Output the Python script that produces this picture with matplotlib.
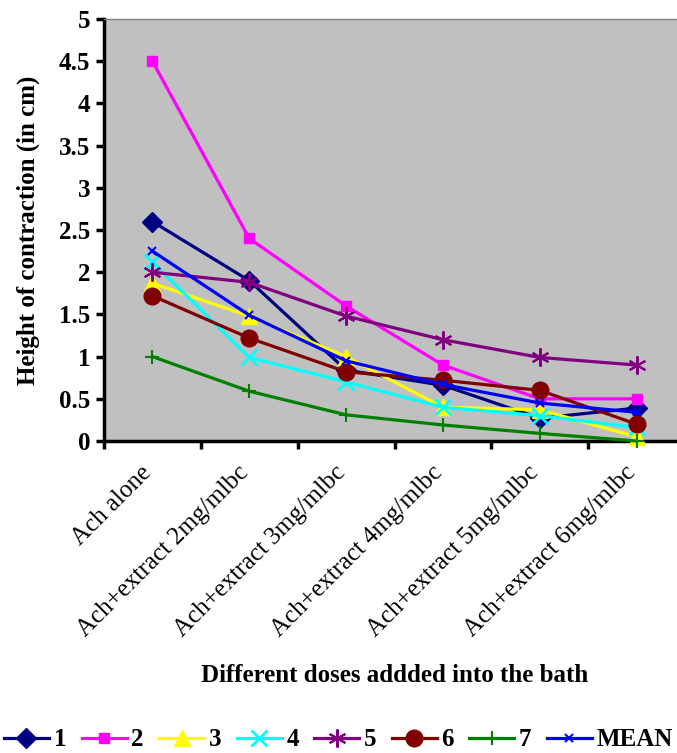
import matplotlib
matplotlib.use("Agg")
import matplotlib.pyplot as plt
from matplotlib.ticker import FixedLocator
from matplotlib.transforms import ScaledTranslation, blended_transform_factory

categories = ["Ach alone", "Ach+extract 2mg/mlbc", "Ach+extract 3mg/mlbc",
              "Ach+extract 4mg/mlbc", "Ach+extract 5mg/mlbc", "Ach+extract 6mg/mlbc"]
s1 = [2.6, 1.9, 0.84, 0.66, 0.27, 0.39]
s2 = [4.5, 2.4, 1.6, 0.9, 0.5, 0.5]
s3 = [1.87, 1.48, 1.0, 0.4, 0.37, 0.05]
s4 = [2.12, 0.99, 0.7, 0.4, 0.3, 0.16]
s5 = [2.0, 1.88, 1.48, 1.2, 0.99, 0.9]
s6 = [1.72, 1.22, 0.82, 0.72, 0.6, 0.2]
s7 = [1.0, 0.59, 0.31, 0.19, 0.09, 0.0]
mean = [2.25, 1.49, 0.95, 0.67, 0.45, 0.34]
labels = ["1", "2", "3", "4", "5", "6", "7", "MEAN"]
yticks = [0, 0.5, 1, 1.5, 2, 2.5, 3, 3.5, 4, 4.5, 5]

plt.rcParams['font.family'] = ['Liberation Serif', 'DejaVu Serif']

fig = plt.figure(figsize=(6.77, 7.53), dpi=100)
ax = fig.add_axes([104/677, (753-441)/753, (685-104)/677, 422/753])
ax.set_facecolor("#C0C0C0")

x = list(range(len(categories)))
styles = [
    dict(color="#000080", marker="D", ms=10, mfc="#000080", mec="#000080"),
    dict(color="#FF00FF", marker="s", ms=7.5, mfc="#FF00FF", mec="#FF00FF"),
    dict(color="#FFFF00", marker="^", ms=11, mfc="#FFFF00", mec="#FFFF00"),
    dict(color="#00FFFF", marker="x", ms=11, mew=2, mec="#00FFFF"),
    dict(color="#800080", marker=(6, 2, 0), ms=13, mew=1.5, mec="#800080"),
    dict(color="#800000", marker="o", ms=12, mfc="#800000", mec="#800000"),
    dict(color="#008000", marker="+", ms=10, mew=1.5, mec="#008000"),
    dict(color="#0000FF", marker="x", ms=6, mew=1.5, mec="#0000FF"),
]
series = [s1, s2, s3, s4, s5, s6, s7, mean]
for i, (ys, st, lb) in enumerate(zip(series, styles, labels)):
    ax.plot(x, ys, lw=2.3, label=lb, clip_on=False, zorder=3 + i, **st)

ax.set_xlim(-0.5, 5.5)
ax.set_ylim(0, 5)
ax.set_yticks(yticks)
ax.set_yticklabels([f"{v:g}" for v in yticks], fontsize=18, fontweight="bold")
ax.set_xticks(x)
ax.set_xticklabels([])
ax.xaxis.set_minor_locator(FixedLocator([i - 0.5 for i in range(len(categories) + 1)]))
ax.tick_params(axis="x", which="major", length=0)
ax.tick_params(axis="x", which="minor", length=6, width=2.5, direction="out")
ax.tick_params(axis="y", which="major", length=6, width=2.5, direction="out", pad=4)

base = blended_transform_factory(ax.transData, ax.transAxes)
offset = ScaledTranslation(-12/100, -21/100, fig.dpi_scale_trans)
for xi, cat in zip(x, categories):
    ax.text(xi, 0, cat, transform=base + offset, rotation=45, ha="right", va="top",
            rotation_mode="anchor", fontsize=18)

for side in ["left", "bottom"]:
    ax.spines[side].set_linewidth(2.5)
    ax.spines[side].set_color("black")
ax.spines["top"].set_color("#808080")
ax.spines["top"].set_linewidth(1)
ax.spines["right"].set_visible(False)

fig.text(28/677, 1 - 230/753, "Height of contraction (in cm)", fontsize=18,
         fontweight="bold", ha="center", va="center", rotation=90)
fig.text(395/677, 1 - 675/753, "Different doses addded into the bath", fontsize=18,
         fontweight="bold", ha="center", va="center")

fig.legend(loc="center", bbox_to_anchor=(0.5, 1 - 740/753), ncol=8, frameon=False,
           prop=dict(size=18, weight="bold"), handlelength=1.8, columnspacing=0.6,
           handletextpad=0.2, borderaxespad=0)

fig.savefig("out.png", dpi=100)
